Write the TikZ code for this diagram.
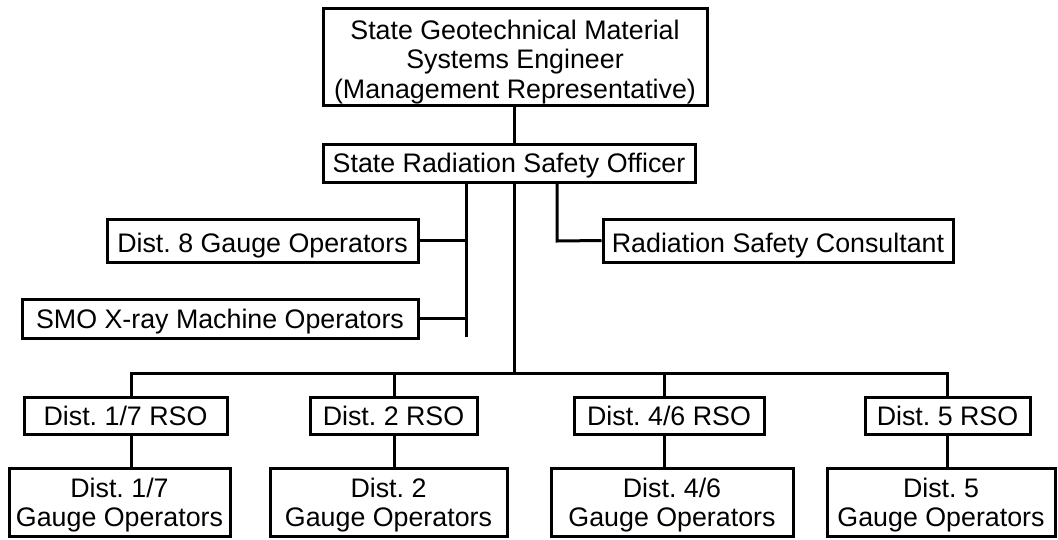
\documentclass[tikz,border=0pt]{standalone}
\usepackage{fontspec}
\setmainfont{Liberation Sans}
\begin{document}
\frenchspacing
\begin{tikzpicture}[x=1pt,y=-1pt,
  box/.style={draw, line width=3pt, rectangle, inner sep=0pt, align=center,
    font=\fontsize{26.8}{29.5}\selectfont},
  onebox/.style={box, text height=19.6pt, text depth=0pt},
  conn/.style={line width=3pt}]
\useasboundingbox (0,0) rectangle (1058,539);
% boxes
\node[box, minimum width=384pt, minimum height=97pt] (top) at (515,56.5)
  {\rule{0pt}{29.6pt}State Geotechnical Material\\Systems Engineer\\(Management Representative)};
\node[onebox, minimum width=372pt, minimum height=38pt] (srso) at (509,163)
  {State Radiation Safety Officer};
\node[onebox, text height=23.6pt, minimum width=311pt, minimum height=43pt] (d8) at (262.5,240.5)
  {Dist. 8 Gauge Operators};
\node[onebox, minimum width=396pt, minimum height=39pt] (smo) at (220,318.5)
  {SMO X-ray Machine Operators};
\node[onebox, text height=23.6pt, minimum width=350pt, minimum height=43pt] (rsc) at (778,240.5)
  {Radiation Safety Consultant};
\node[onebox, minimum width=203pt, minimum height=37pt] (rso17) at (125.5,415.5) {Dist. 1/7 RSO};
\node[onebox, minimum width=167pt, minimum height=37pt] (rso2) at (393.5,415.5) {Dist. 2 RSO};
\node[onebox, minimum width=190pt, minimum height=37pt] (rso46) at (669,415.5) {Dist. 4/6 RSO};
\node[onebox, minimum width=165pt, minimum height=37pt] (rso5) at (947.5,415.5) {Dist. 5 RSO};
\node[box, minimum width=221pt, minimum height=68pt] (g17) at (119.5,502) {\rule{0pt}{25.6pt}Dist. 1/7\\Gauge Operators};
\node[box, minimum width=237pt, minimum height=68pt] (g2) at (388.5,502) {\rule{0pt}{25.6pt}Dist. 2\\Gauge Operators};
\node[box, minimum width=242pt, minimum height=68pt] (g46) at (672,502) {\rule{0pt}{25.6pt}Dist. 4/6\\Gauge Operators};
\node[box, minimum width=228pt, minimum height=68pt] (g5) at (941,502) {\rule{0pt}{25.6pt}Dist. 5\\Gauge Operators};
% junction coordinates
\coordinate (mv) at (514,373);
\coordinate (lv) at (466,337);
\coordinate (rv) at (557,241);
\coordinate (b1) at (131,373);
\coordinate (b2) at (394,373);
\coordinate (b3) at (664,373);
\coordinate (b4) at (947,373);
% connectors
\draw[conn] (mv |- top.south) -- (mv |- srso.north);
\draw[conn] (mv |- srso.south) -- (mv);
\draw[conn] (lv |- srso.south) -- (lv);
\draw[conn] (d8.east) -- (d8.east -| lv);
\draw[conn] (smo.east) -- (smo.east -| lv);
\draw[conn] (rv |- srso.south) -- (rv) -- (rsc.west);
\draw[conn] (b1 |- rso17.north) -- (b1) -- (b4) -- (b4 |- rso5.north);
\draw[conn] (b2) -- (b2 |- rso2.north);
\draw[conn] (b3) -- (b3 |- rso46.north);
\draw[conn] (b1 |- rso17.south) -- (b1 |- g17.north);
\draw[conn] (b2 |- rso2.south) -- (b2 |- g2.north);
\draw[conn] (b3 |- rso46.south) -- (b3 |- g46.north);
\draw[conn] (b4 |- rso5.south) -- (b4 |- g5.north);
\end{tikzpicture}
\end{document}
